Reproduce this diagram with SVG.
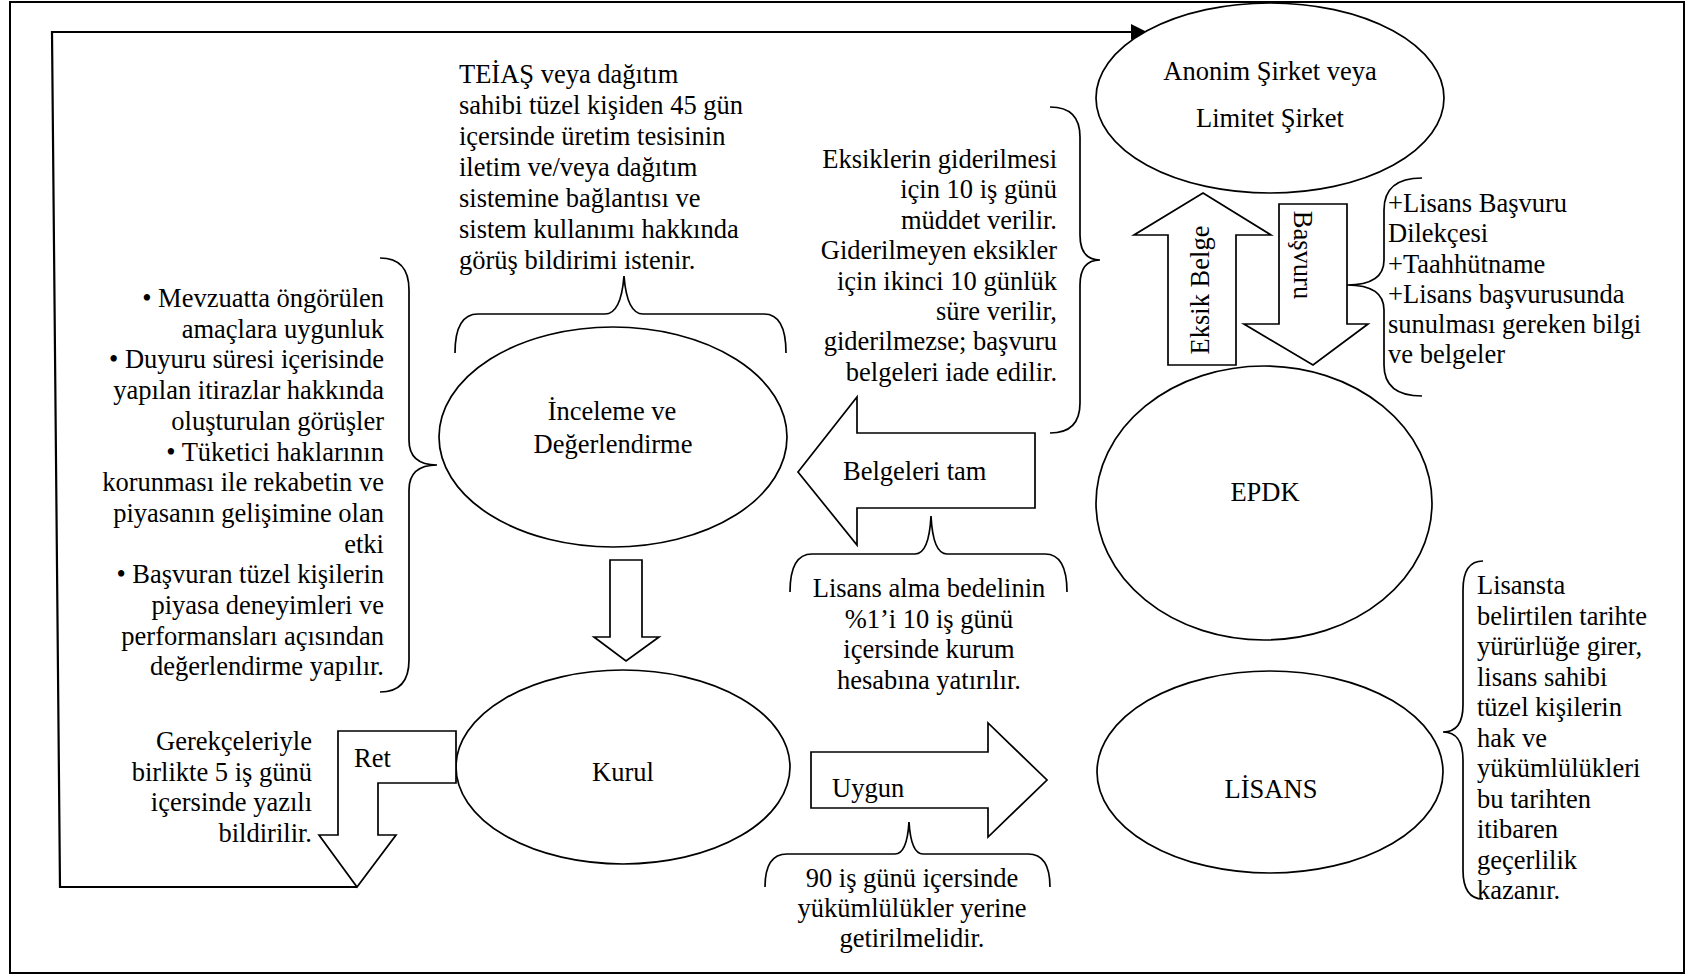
<svg xmlns="http://www.w3.org/2000/svg" width="1693" height="975" viewBox="0 0 1693 975">
<style>
.s{fill:#fff;stroke:#000;stroke-width:1.7}
.b{fill:none;stroke:#000;stroke-width:1.7}
.c{fill:none;stroke:#000;stroke-width:2.2}
.t{font-family:"Liberation Serif","Times New Roman",serif;font-size:26.5px;fill:#000}
.m{text-anchor:middle}
.e{text-anchor:end}
</style>
<defs>
<marker id="ah" markerUnits="userSpaceOnUse" markerWidth="18" markerHeight="18" refX="16" refY="8" orient="auto">
<path d="M0,0 L16,8 L0,16 z" fill="#000"/>
</marker>
</defs>
<rect x="10" y="2" width="1674" height="971" fill="#fff" stroke="#000" stroke-width="2"/>

<g id="connectors">
<path class="c" d="M357,887 L60,887 L52,32 L1147,32" marker-end="url(#ah)"/>
</g>

<g id="anonim">
<ellipse class="s" cx="1270" cy="98" rx="174" ry="95"/>
<text class="t m" x="1270" y="80">Anonim Şirket veya</text>
<text class="t m" x="1270" y="127">Limitet Şirket</text>
</g>

<g id="eksik-belge">
<polygon class="s" points="1203,193 1271,235 1236,235 1236,365 1168,365 1168,235 1134,235"/>
<text class="t m" transform="translate(1209,290) rotate(-90)">Eksik Belge</text>
</g>

<g id="basvuru">
<polygon class="s" points="1279,204 1347,204 1347,324 1368,324 1313,365 1244,324 1279,324"/>
<text class="t m" transform="translate(1294,255) rotate(90)">Başvuru</text>
</g>

<g id="basvuru-list">
<path class="b" d="M1422,178 Q1384,178 1384,210 L1384,260 Q1384,285 1347,285 Q1384,285 1384,310 L1384,365 Q1384,396 1422,396"/>
<text class="t" x="1388" y="212">+Lisans Başvuru</text>
<text class="t" x="1388" y="242">Dilekçesi</text>
<text class="t" x="1388" y="273">+Taahhütname</text>
<text class="t" x="1388" y="303">+Lisans başvurusunda</text>
<text class="t" x="1388" y="333">sunulması gereken bilgi</text>
<text class="t" x="1388" y="363">ve belgeler</text>
</g>

<g id="epdk">
<ellipse class="s" cx="1264" cy="503" rx="168" ry="137"/>
<text class="t m" x="1265" y="501">EPDK</text>
</g>

<g id="eksiklerin-note">
<path class="b" d="M1050,107 Q1080,107 1080,137 L1080,235 Q1080,260 1100,260 Q1080,260 1080,285 L1080,403 Q1080,433 1050,433"/>
<text class="t e" x="1057" y="168">Eksiklerin giderilmesi</text>
<text class="t e" x="1057" y="198.4">için 10 iş günü</text>
<text class="t e" x="1057" y="228.8">müddet verilir.</text>
<text class="t e" x="1057" y="259.2">Giderilmeyen eksikler</text>
<text class="t e" x="1057" y="289.6">için ikinci 10 günlük</text>
<text class="t e" x="1057" y="320">süre verilir,</text>
<text class="t e" x="1057" y="350.4">giderilmezse; başvuru</text>
<text class="t e" x="1057" y="380.8">belgeleri iade edilir.</text>
</g>

<g id="belgeleri-tam">
<polygon class="s" points="798,472 857,397 857,433 1035,433 1035,508 857,508 857,545"/>
<text class="t" x="843" y="480">Belgeleri tam</text>
</g>

<g id="lisans-bedeli-note">
<path class="b" d="M790,592 Q790,554 812,554 L915,554 Q929,554 931,516 Q933,554 947,554 L1045,554 Q1067,554 1067,592"/>
<text class="t m" x="929" y="597">Lisans alma bedelinin</text>
<text class="t m" x="929" y="628">%1’i 10 iş günü</text>
<text class="t m" x="929" y="658">içersinde kurum</text>
<text class="t m" x="929" y="689">hesabına yatırılır.</text>
</g>

<g id="teias-note">
<text class="t" x="459" y="83">TEİAŞ veya dağıtım</text>
<text class="t" x="459" y="114">sahibi tüzel kişiden 45 gün</text>
<text class="t" x="459" y="145">içersinde üretim tesisinin</text>
<text class="t" x="459" y="176">iletim ve/veya dağıtım</text>
<text class="t" x="459" y="207">sistemine bağlantısı ve</text>
<text class="t" x="459" y="238">sistem kullanımı hakkında</text>
<text class="t" x="459" y="269">görüş bildirimi istenir.</text>
<path class="b" d="M455,353 Q455,314 478,314 L605,314 Q621,314 624,276 Q627,314 643,314 L764,314 Q786,314 786,353"/>
</g>

<g id="inceleme">
<ellipse class="s" cx="613" cy="437" rx="174" ry="110"/>
<text class="t m" x="612" y="420">İnceleme ve</text>
<text class="t m" x="613" y="453">Değerlendirme</text>
</g>

<g id="criteria-note">
<path class="b" d="M380,258 Q409,258 409,290 L409,440 Q409,465 437,465 Q409,465 409,490 L409,660 Q409,692 380,692"/>
<text class="t e" x="384" y="307">• Mevzuatta öngörülen</text>
<text class="t e" x="384" y="337.7">amaçlara uygunluk</text>
<text class="t e" x="384" y="368.4">• Duyuru süresi içerisinde</text>
<text class="t e" x="384" y="399.1">yapılan itirazlar hakkında</text>
<text class="t e" x="384" y="429.8">oluşturulan görüşler</text>
<text class="t e" x="384" y="460.5">• Tüketici haklarının</text>
<text class="t e" x="384" y="491.2">korunması ile rekabetin ve</text>
<text class="t e" x="384" y="521.9">piyasanın gelişimine olan</text>
<text class="t e" x="384" y="552.6">etki</text>
<text class="t e" x="384" y="583.3">• Başvuran tüzel kişilerin</text>
<text class="t e" x="384" y="614">piyasa deneyimleri ve</text>
<text class="t e" x="384" y="644.7">performansları açısından</text>
<text class="t e" x="384" y="675.4">değerlendirme yapılır.</text>
</g>

<g id="down-arrow">
<polygon class="s" points="610,560 642,560 642,637 659,637 626,661 594,637 610,637"/>
</g>

<g id="kurul">
<ellipse class="s" cx="623" cy="767" rx="167" ry="97"/>
<text class="t m" x="623" y="781">Kurul</text>
</g>

<g id="ret">
<polygon class="s" points="338,731 456,731 456,783 378,783 378,835 396,835 357,887 319,835 338,835"/>
<text class="t" x="354" y="767">Ret</text>
</g>

<g id="ret-note">
<text class="t e" x="312" y="750">Gerekçeleriyle</text>
<text class="t e" x="312" y="780.5">birlikte 5 iş günü</text>
<text class="t e" x="312" y="811">içersinde yazılı</text>
<text class="t e" x="312" y="841.5">bildirilir.</text>
</g>

<g id="uygun">
<polygon class="s" points="811,752 988,752 988,723 1047,780 988,837 988,808 811,808"/>
<text class="t" x="832" y="797">Uygun</text>
</g>

<g id="uygun-note">
<path class="b" d="M765,887 Q765,854 787,854 L895,854 Q907,854 909,822 Q911,854 923,854 L1028,854 Q1050,854 1050,887"/>
<text class="t m" x="912" y="887">90 iş günü içersinde</text>
<text class="t m" x="912" y="917">yükümlülükler yerine</text>
<text class="t m" x="912" y="947">getirilmelidir.</text>
</g>

<g id="lisans">
<ellipse class="s" cx="1270" cy="772" rx="173" ry="101"/>
<text class="t m" x="1271" y="798">LİSANS</text>
</g>

<g id="lisans-note">
<path class="b" d="M1483,561 Q1463,561 1463,590 L1463,705 Q1463,732 1443,732 Q1463,732 1463,760 L1463,870 Q1463,899 1483,899"/>
<text class="t" x="1477" y="594">Lisansta</text>
<text class="t" x="1477" y="624.5">belirtilen tarihte</text>
<text class="t" x="1477" y="655">yürürlüğe girer,</text>
<text class="t" x="1477" y="685.5">lisans sahibi</text>
<text class="t" x="1477" y="716">tüzel kişilerin</text>
<text class="t" x="1477" y="746.5">hak ve</text>
<text class="t" x="1477" y="777">yükümlülükleri</text>
<text class="t" x="1477" y="807.5">bu tarihten</text>
<text class="t" x="1477" y="838">itibaren</text>
<text class="t" x="1477" y="868.5">geçerlilik</text>
<text class="t" x="1477" y="899">kazanır.</text>
</g>
</svg>
